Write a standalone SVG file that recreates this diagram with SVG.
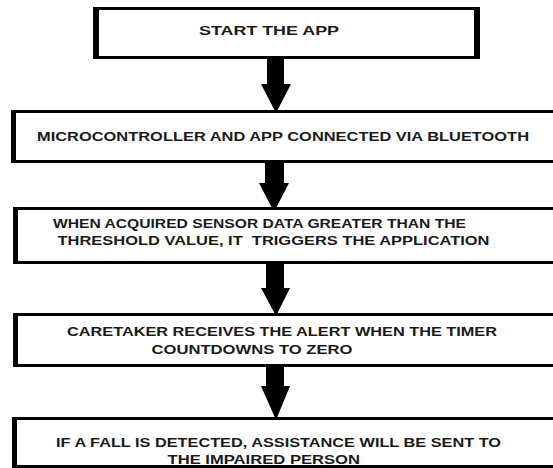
<svg xmlns="http://www.w3.org/2000/svg" width="553" height="468" viewBox="0 0 553 468">
<style>
.o{fill:#000}
.i{fill:#fff}
.t{font-family:"Liberation Sans",Arial,sans-serif;font-weight:bold;font-size:12px;fill:#1a1a1a}
.a{fill:#000}
</style>
<rect width="553" height="468" fill="#fff"/>
<g id="connectors">
<polygon class="a" points="267,58 284,58 284,84 291,84 276,113 261,84 267,84"/>
<polygon class="a" points="265,161 284,161 284,183 289,183 274,212 259,183 265,183"/>
<polygon class="a" points="266,263 284,263 284,288 290,288 276,316 261,288 266,288"/>
<polygon class="a" points="266,366 284,366 284,386 290,386 276,420 261,386 266,386"/>
</g>
<g id="n1">
<rect class="o" x="93" y="7" width="387" height="52"/>
<rect class="i" x="99" y="10" width="375" height="46"/>
<text class="t" x="199" y="35" textLength="140" lengthAdjust="spacingAndGlyphs">START THE APP</text>
</g>
<g id="n2">
<rect class="o" x="11" y="110" width="560" height="53"/>
<rect class="i" x="16" y="113" width="560" height="47"/>
<text class="t" x="37" y="141" textLength="492" lengthAdjust="spacingAndGlyphs">MICROCONTROLLER AND APP CONNECTED VIA BLUETOOTH</text>
</g>
<g id="n3">
<rect class="o" x="13" y="207" width="560" height="57"/>
<rect class="i" x="18" y="210" width="560" height="51"/>
<text class="t" x="53" y="227.5" textLength="413" lengthAdjust="spacingAndGlyphs">WHEN ACQUIRED SENSOR DATA GREATER THAN THE</text>
<text class="t" x="57.5" y="244.5" textLength="432" lengthAdjust="spacingAndGlyphs" xml:space="preserve">THRESHOLD VALUE, IT  TRIGGERS THE APPLICATION</text>
</g>
<g id="n4">
<rect class="o" x="13" y="313" width="560" height="54"/>
<rect class="i" x="18" y="316" width="560" height="48"/>
<text class="t" x="67" y="335.5" textLength="430" lengthAdjust="spacingAndGlyphs">CARETAKER RECEIVES THE ALERT WHEN THE TIMER</text>
<text class="t" x="151.5" y="353.5" textLength="201" lengthAdjust="spacingAndGlyphs">COUNTDOWNS TO ZERO</text>
</g>
<g id="n5">
<rect class="o" x="12" y="417" width="560" height="60"/>
<rect class="i" x="17" y="420" width="560" height="45"/>
<text class="t" x="56" y="447" textLength="445" lengthAdjust="spacingAndGlyphs">IF A FALL IS DETECTED, ASSISTANCE WILL BE SENT TO</text>
<text class="t" x="167.5" y="463.5" textLength="192.5" lengthAdjust="spacingAndGlyphs">THE IMPAIRED PERSON</text>
</g>
</svg>
